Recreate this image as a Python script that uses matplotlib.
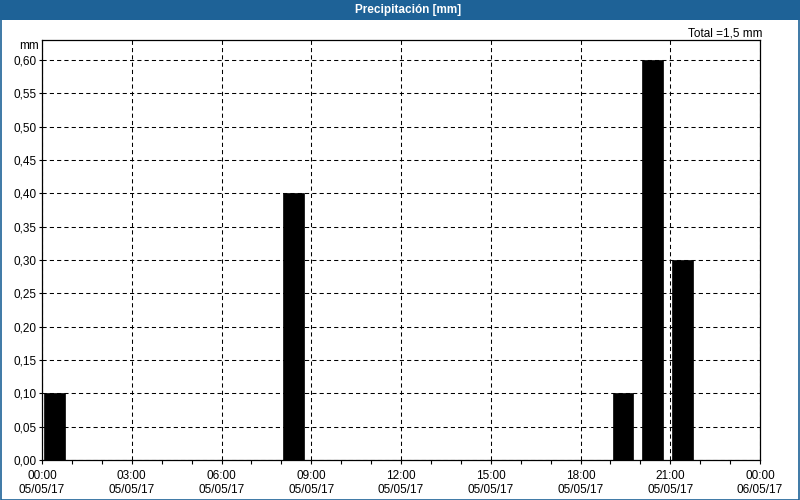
import matplotlib
matplotlib.use('Agg')
import matplotlib.pyplot as plt
from matplotlib.patches import Rectangle
from matplotlib.ticker import MultipleLocator

# hourly rain (hour of day, mm)
hours = [0, 8, 19, 20, 21]
rain = [0.10, 0.40, 0.10, 0.60, 0.30]
y_ticks = [0.00, 0.05, 0.10, 0.15, 0.20, 0.25, 0.30, 0.35, 0.40, 0.45, 0.50, 0.55, 0.60]
x_ticks = [0, 3, 6, 9, 12, 15, 18, 21, 24]
x_labels = ['00:00\n05/05/17', '03:00\n05/05/17', '06:00\n05/05/17',
            '09:00\n05/05/17', '12:00\n05/05/17', '15:00\n05/05/17',
            '18:00\n05/05/17', '21:00\n05/05/17', '00:00\n06/05/17']
title = 'Precipitación [mm]'
total_text = 'Total =1,5 mm'

blue = '#1e6297'
plt.rcParams['font.family'] = ['Liberation Sans', 'DejaVu Sans']

fig = plt.figure(figsize=(8, 5), dpi=100)
fig.patch.set_facecolor('white')

# title bar and outer frame
fig.patches.append(Rectangle((0, 0.96), 1, 0.04, transform=fig.transFigure,
                             facecolor=blue, edgecolor='none', zorder=0))
fig.patches.append(Rectangle((0.001, 0.001), 0.998, 0.998, transform=fig.transFigure,
                             facecolor='none', edgecolor=blue, lw=1.2, zorder=1))
fig.text(0.51, 0.98, title, color='white', fontsize=8.5, fontweight='bold',
         ha='center', va='center')

ax = fig.add_axes([0.0525, 0.08, 0.8975, 0.84])
ax.set_axisbelow(True)
ax.bar([h + 0.07 for h in hours], rain, width=0.7, align='edge',
       color='black', edgecolor='black', lw=0.5, zorder=3)

ax.set_xlim(0, 24)
ax.set_ylim(0, 0.63)
ax.set_xticks(x_ticks)
ax.set_xticklabels(x_labels, fontsize=8.5, linespacing=1.25)
ax.xaxis.set_minor_locator(MultipleLocator(1))
ax.set_yticks(y_ticks)
ax.set_yticklabels([('%.2f' % v).replace('.', ',') for v in y_ticks], fontsize=8.5)
ax.tick_params(axis='both', which='both', direction='out', length=3, width=0.8)
ax.tick_params(axis='x', which='major', pad=4)
ax.tick_params(axis='y', length=2, pad=2)
ax.tick_params(axis='x', which='minor', length=3)

ax.grid(True, which='major', color='black', lw=0.75, linestyle=(0, (4, 3)))
for s in ax.spines.values():
    s.set_linewidth(0.9)
    s.set_color('black')

ax.text(-0.005, 1.0, 'mm', transform=ax.transAxes, fontsize=8.5, ha='right', va='top')
fig.text(0.953, 0.934, total_text, fontsize=8.5, ha='right', va='center')

fig.savefig('out.png', dpi=100)
